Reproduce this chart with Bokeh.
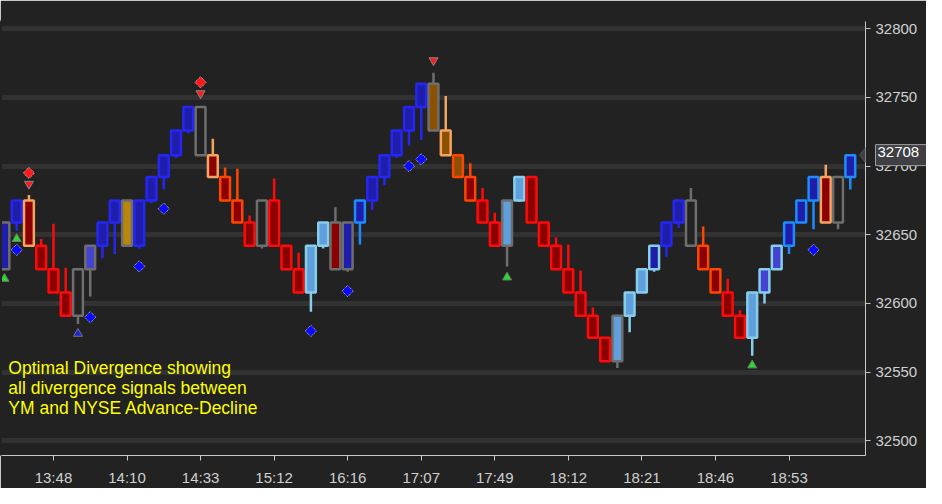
from bokeh.plotting import figure
from bokeh.models import (ColumnDataSource, FixedTicker, SingleIntervalTicker, Range1d, Label,
                          PolyAnnotation, LinearAxis)
from bokeh.embed import file_html
from bokeh.resources import INLINE
import math

# ---------------- data ----------------
brick = list(range(70))
opens = [32625, 32659, 32675, 32642, 32625, 32608, 32591, 32625, 32642, 32659,
         32675, 32642, 32675, 32692, 32708, 32726, 32743, 32708, 32692, 32675,
         32659, 32642, 32675, 32642, 32625, 32608, 32642, 32659, 32625, 32659,
         32675, 32692, 32708, 32726, 32743, 32760, 32726, 32708, 32692, 32675,
         32659, 32642, 32675, 32692, 32659, 32642, 32625, 32608, 32591, 32575,
         32558, 32591, 32608, 32625, 32642, 32659, 32675, 32642, 32625, 32608,
         32591, 32575, 32608, 32625, 32642, 32659, 32675, 32692, 32659, 32692]
closes = [32659, 32675, 32642, 32625, 32608, 32591, 32625, 32642, 32659, 32675,
          32642, 32675, 32692, 32708, 32726, 32743, 32708, 32692, 32675, 32659,
          32642, 32675, 32642, 32625, 32608, 32642, 32659, 32625, 32659, 32675,
          32692, 32708, 32726, 32743, 32760, 32726, 32708, 32692, 32675, 32659,
          32642, 32675, 32692, 32659, 32642, 32625, 32608, 32591, 32575, 32558,
          32591, 32608, 32625, 32642, 32659, 32675, 32642, 32625, 32608, 32591,
          32575, 32608, 32625, 32642, 32659, 32675, 32692, 32659, 32692, 32708]
highs = [32659, 32675, 32679, 32647, 32658, 32626, 32625, 32642, 32659, 32675,
         32675, 32675, 32692, 32708, 32726, 32743, 32743, 32720, 32699, 32698,
         32664, 32675, 32691, 32642, 32637, 32642, 32659, 32670, 32659, 32675,
         32692, 32708, 32726, 32743, 32760, 32768, 32751, 32708, 32702, 32684,
         32666, 32675, 32692, 32692, 32659, 32648, 32643, 32624, 32597, 32575,
         32591, 32608, 32625, 32642, 32659, 32675, 32684, 32656, 32625, 32618,
         32595, 32608, 32625, 32642, 32659, 32675, 32692, 32701, 32692, 32708]
lows = [32625, 32653, 32642, 32625, 32608, 32591, 32585, 32605, 32633, 32636,
        32642, 32640, 32673, 32683, 32706, 32724, 32708, 32692, 32675, 32659,
        32642, 32640, 32642, 32625, 32608, 32594, 32640, 32625, 32623, 32643,
        32668, 32686, 32706, 32715, 32719, 32726, 32708, 32692, 32675, 32659,
        32642, 32627, 32674, 32659, 32642, 32625, 32608, 32591, 32575, 32558,
        32553, 32579, 32608, 32623, 32634, 32655, 32642, 32625, 32608, 32591,
        32575, 32562, 32600, 32625, 32636, 32659, 32654, 32659, 32654, 32683]
# brick state codes (outline / body)
outline_state = ["grey", "blue", "sandy", "red", "red", "red", "grey", "grey", "blue", "blue",
                 "grey", "blue", "blue", "blue", "blue", "blue", "grey", "sandy", "orange", "orange",
                 "red", "grey", "red", "red", "red", "light", "light", "grey", "grey", "dodger",
                 "blue", "blue", "blue", "blue", "blue", "grey", "sandy", "orange", "orange", "red",
                 "red", "grey", "light", "red", "red", "red", "red", "red", "red", "red",
                 "grey", "light", "light", "light", "blue", "blue", "grey", "orange", "orange", "red",
                 "red", "light", "light", "light", "dodger", "dodger", "dodger", "sandy", "grey", "dodger"]
body_state = ["navy", "navy", "maroon", "maroon", "maroon", "maroon", "none", "mid", "navy", "navy",
              "gold", "navy", "navy", "navy", "navy", "navy", "none", "maroon", "maroon", "maroon",
              "maroon", "none", "maroon", "maroon", "maroon", "steel", "steel", "maroon", "navy", "navy",
              "navy", "navy", "navy", "navy", "navy", "brown", "brown", "brown", "maroon", "maroon",
              "maroon", "steel", "steel", "maroon", "maroon", "maroon", "maroon", "maroon", "maroon", "maroon",
              "steel", "steel", "steel", "navy", "navy", "navy", "none", "maroon", "maroon", "maroon",
              "maroon", "steel", "mid", "mid", "navy", "navy", "navy", "maroon", "none", "navy"]

time_tick_pos = [4, 10, 16, 22, 28, 34, 40, 46, 52, 58, 64]
time_tick_labels = ["13:48", "14:10", "14:33", "15:12", "16:16", "17:07",
                    "17:49", "18:12", "18:21", "18:46", "18:53"]

green_up_x = [0, 1, 41, 61]
green_up_y = [32618, 32647, 32619, 32555]
blue_up_x = [6]
blue_up_y = [32578]
blue_dia_x = [1, 7, 11, 13, 25, 28, 33, 34, 66]
blue_dia_y = [32639, 32590, 32627, 32669, 32580, 32609, 32700, 32705, 32639]
red_dia_x = [2, 16]
red_dia_y = [32695, 32761]
red_down_x = [2, 16, 35]
red_down_y = [32687, 32753, 32777]

last_price = closes[-1]
note_lines = ["Optimal Divergence showing",
              "all divergence signals between",
              "YM and NYSE Advance-Decline"]

# ---------------- styles ----------------
BG = "#222222"
outline_pal = {"grey": "#6e6e6e", "blue": "#2626f2", "dodger": "#1e8cff", "light": "#87ceeb",
               "red": "#ff0a0a", "orange": "#ff4500", "sandy": "#f4a460"}
body_pal = {"navy": "#1e1eaa", "mid": "#4343cf", "steel": "#5f9fdd", "maroon": "#8b0000",
            "brown": "#8b5000", "gold": "#b8860b", "none": BG}

src = ColumnDataSource(dict(
    x=brick,
    left=[i - 0.4 for i in brick],
    right=[i + 0.4 for i in brick],
    top=[max(o, c) for o, c in zip(opens, closes)],
    bottom=[min(o, c) for o, c in zip(opens, closes)],
    high=highs, low=lows,
    line=[outline_pal[s] for s in outline_state],
    fill=[body_pal[s] for s in body_state],
))

W, H = 926, 488
TOP, RIGHT, BOTTOM = 21, 61, 32
x0, x1 = -0.32, 70.24
y0, y1 = 32489.3, 32805.3
ppu_x = (W - RIGHT) / (x1 - x0)
ppu_y = (H - TOP - BOTTOM) / (y1 - y0)

p = figure(width=W, height=H, output_backend="svg", toolbar_location=None,
           x_range=Range1d(x0, x1), y_range=Range1d(y0, y1),
           y_axis_location="right",
           min_border_left=0, min_border_top=TOP, min_border_right=RIGHT, min_border_bottom=BOTTOM,
           background_fill_color=BG, border_fill_color=BG, outline_line_color=None)

p.xgrid.visible = False
p.ygrid.grid_line_color = "#323232"
p.ygrid.grid_line_width = 5

p.yaxis.ticker = SingleIntervalTicker(interval=50)
p.xaxis.ticker = FixedTicker(ticks=time_tick_pos)
p.xaxis.major_label_overrides = {t: l for t, l in zip(time_tick_pos, time_tick_labels)}
for ax in (p.xaxis, p.yaxis):
    ax.axis_line_color = "#c8c8c8"
    ax.major_tick_line_color = "#c8c8c8"
    ax.major_tick_out = 5
    ax.major_tick_in = 0
    ax.minor_tick_line_color = None
    ax.major_label_text_color = "#d0d0d0"
    ax.major_label_text_font = "Liberation Sans"
    ax.major_label_text_font_size = "15px"
p.yaxis.major_label_standoff = 5
p.xaxis.major_label_standoff = 8


def edge_axis(width):
    # empty axis whose line (in background colour) hides the frame-edge seam
    return LinearAxis(ticker=FixedTicker(ticks=[]), axis_line_color=BG, axis_line_width=width,
                      major_tick_out=0, major_tick_in=0, minor_tick_out=0, minor_tick_in=0,
                      major_label_standoff=0, axis_label_standoff=0,
                      major_tick_line_color=None, minor_tick_line_color=None)


p.add_layout(edge_axis(3), "left")

p.segment(x0="x", y0="high", x1="x", y1="low", source=src, line_color="line", line_width=2.5)
p.quad(left="left", right="right", top="top", bottom="bottom", source=src,
       fill_color="fill", line_color="line", line_width=2.5)

p.scatter(green_up_x, green_up_y, marker="triangle", size=9, fill_color="#22e022",
          line_color="#777777", line_width=1)
p.scatter(blue_up_x, blue_up_y, marker="triangle", size=9, fill_color="#2222dd",
          line_color="#777777", line_width=1)
p.scatter(red_down_x, red_down_y, marker="inverted_triangle", size=9, fill_color="#ff1a1a",
          line_color="#888888", line_width=1)
p.scatter(blue_dia_x, blue_dia_y, marker="square", size=8, angle=math.pi / 4, fill_color="#0a0aff",
          line_color="#cccccc", line_width=1, line_dash="1 1")
p.scatter(red_dia_x, red_dia_y, marker="square", size=8, angle=math.pi / 4, fill_color="#ff1a1a",
          line_color="#cccccc", line_width=1, line_dash="1 1")

note_y = [32553, 32538.5, 32524]
for t, yy in zip(note_lines, note_y):
    p.add_layout(Label(x=0.32, y=yy, text=t, text_color="#ffff00", text_font="Liberation Sans",
                       text_font_size="17.5px", text_baseline="middle"))

# last price tag: arrow tip inside the frame, box in the top side panel (not clipped)
half = 10 / ppu_y
tip = PolyAnnotation(xs=[x1 - 6 / ppu_x, x1 + 2 / ppu_x, x1 + 2 / ppu_x], xs_units="data",
                     ys=[last_price, last_price + half, last_price - half], ys_units="data",
                     fill_color="#3f3f44", fill_alpha=1.0, line_color="#a0a0a0", line_width=1)
p.add_layout(tip)
tag = Label(x=x1 + 10 / ppu_x, y=last_price, text=str(last_price),
            text_color="#ffffff", text_font="Liberation Sans", text_font_size="15px",
            text_baseline="middle", text_align="left",
            background_fill_color="#3f3f44", background_fill_alpha=1.0,
            border_line_color="#a0a0a0", border_line_width=1, padding=(2, 8, 2, 9))
p.above = [edge_axis(3), tag]

open("out.html", "w").write(file_html(p, INLINE))
